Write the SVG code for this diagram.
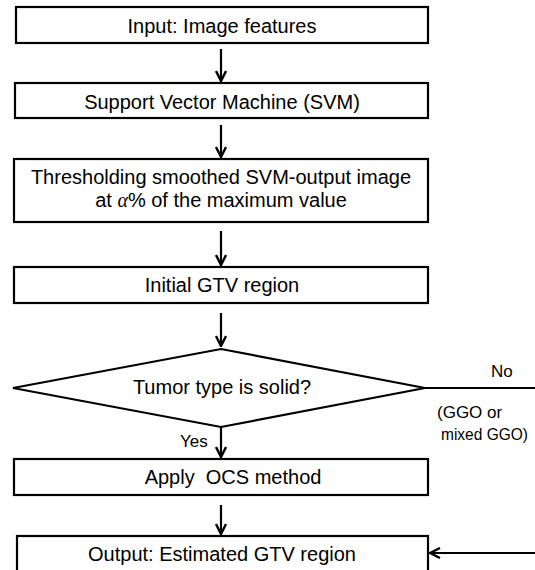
<svg xmlns="http://www.w3.org/2000/svg" width="535" height="570" viewBox="0 0 535 570">
  <style>
    .box { fill: #fff; stroke: #000; stroke-width: 2.2; }
    .lbl { font-family: "Liberation Sans", Arial, sans-serif; font-size: 20px; fill: #000; text-anchor: middle; }
    .side { font-family: "Liberation Sans", Arial, sans-serif; font-size: 17px; fill: #000; }
    .wire { fill: none; stroke: #000; stroke-width: 2.2; }
  </style>
  <defs>
    <marker id="arr" viewBox="0 0 12 12" refX="11" refY="6" markerWidth="12" markerHeight="12" orient="auto" markerUnits="userSpaceOnUse">
      <path d="M1,1 L11,6 L1,11" fill="none" stroke="#000" stroke-width="2.4"/>
    </marker>
  </defs>
  <rect width="535" height="570" fill="#fff"/>

  <g id="input">
    <rect class="box" x="16" y="7" width="412" height="36"/>
    <text class="lbl" x="222" y="33">Input: Image features</text>
  </g>
  <g id="svm">
    <rect class="box" x="15" y="83" width="413" height="35"/>
    <text class="lbl" x="222" y="109">Support Vector Machine (SVM)</text>
  </g>
  <g id="threshold">
    <rect class="box" x="14" y="159" width="414" height="63"/>
    <text class="lbl" x="221" y="184">Thresholding smoothed SVM-output image</text>
    <text class="lbl" x="221" y="207">at <tspan font-family="'Liberation Serif', serif" font-style="italic">α</tspan>% of the maximum value</text>
  </g>
  <g id="initial">
    <rect class="box" x="14" y="267" width="414" height="36"/>
    <text class="lbl" x="222" y="292">Initial GTV region</text>
  </g>
  <g id="decision">
    <polygon class="box" points="13,388 221,349 425,388 221,427"/>
    <text class="lbl" x="222" y="394">Tumor type is solid?</text>
  </g>
  <g id="ocs">
    <rect class="box" x="14" y="459" width="414" height="36"/>
    <text class="lbl" x="233" y="484">Apply&#160; OCS method</text>
  </g>
  <g id="output">
    <rect class="box" x="17" y="536" width="411" height="36"/>
    <text class="lbl" x="222" y="561">Output: Estimated GTV region</text>
  </g>

  <g id="connectors">
    <line class="wire" x1="221" y1="49" x2="221" y2="81" marker-end="url(#arr)"/>
    <line class="wire" x1="221" y1="125" x2="221" y2="157" marker-end="url(#arr)"/>
    <line class="wire" x1="221" y1="231" x2="221" y2="265" marker-end="url(#arr)"/>
    <line class="wire" x1="221" y1="313" x2="221" y2="346" marker-end="url(#arr)"/>
    <line class="wire" x1="221" y1="427" x2="221" y2="457" marker-end="url(#arr)"/>
    <line class="wire" x1="221" y1="505" x2="221" y2="534" marker-end="url(#arr)"/>
    <line class="wire" x1="425" y1="388" x2="535" y2="388"/>
    <line class="wire" x1="535" y1="553" x2="430" y2="553" marker-end="url(#arr)"/>
    <text class="side" x="491" y="377" font-size="19">No</text>
    <text class="side" x="437" y="418">(GGO or</text>
    <text class="side" x="441" y="440" textLength="87" lengthAdjust="spacingAndGlyphs">mixed GGO)</text>
    <text class="side" x="180" y="447">Yes</text>
  </g>
</svg>
